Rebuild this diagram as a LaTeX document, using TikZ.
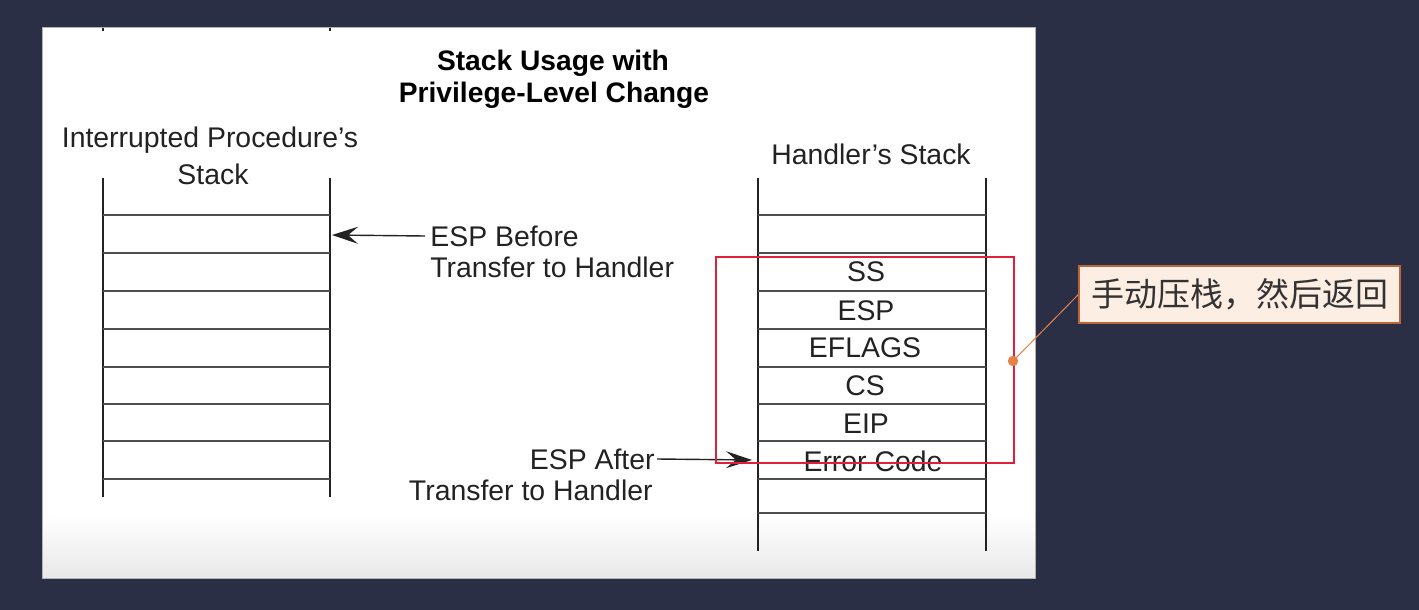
\documentclass[tikz,border=0pt]{standalone}
\usepackage{fontspec}
\setmainfont{Liberation Sans}
\newfontfamily\cjk{Noto Sans CJK SC}
\usetikzlibrary{arrows.meta}
\definecolor{slideBg}{HTML}{2B2F45}
\definecolor{inkGray}{HTML}{222222}
\definecolor{boxRed}{HTML}{E0203A}
\definecolor{noteLine}{HTML}{E8804A}
\definecolor{noteFill}{HTML}{FDEEE3}
\begin{document}
\begin{tikzpicture}[x=0.5pt,y=-0.5pt,font=\fontsize{14.2}{16}\selectfont,
rail/.style={draw=inkGray,line width=1pt},
slot/.style={draw=inkGray!80,line width=0.8pt},
label/.style={text=inkGray,inner sep=0pt},
heading/.style={text=black,inner sep=0pt,font=\fontsize{14.1}{16}\selectfont\bfseries},
pointer/.style={draw=inkGray,line width=0.7pt,-{Stealth[length=13pt,width=8.5pt,inset=5pt]}},
pushBox/.style={draw=boxRed,line width=1pt},
note/.style={draw=noteLine!80!black,fill=noteFill,line width=0.6pt,minimum width=160.5pt,minimum height=28.5pt,inner sep=0pt,text=black!80,font=\cjk\fontsize{16.5}{18}\selectfont}]
\path[use as bounding box] (0,0) rectangle (1419,610);
\fill[slideBg] (0,0) rectangle (1419,610);
% slide panel
\fill[white] (42,28) rectangle (1035,578);
\shade[top color=white,bottom color=black!9] (42,515) rectangle (1035,578);
\draw[black!30,line width=0.5pt] (42,28) rectangle (1035,578);
\draw[inkGray,line width=0.8pt] (103,28)--(103,31);
\draw[inkGray,line width=0.8pt] (330,28)--(330,31);
% title
\node[heading] (title1) at (553,63) {Stack Usage with};
\node[heading] (title2) at (554,95) {Privilege-Level Change};
% interrupted procedure's stack
\node[label] (lhead1) at (210,140) {Interrupted Procedure’s};
\node[label] (lhead2) at (213,174) {Stack};
\draw[rail] (103,178)--(103,497);
\draw[rail] (330,178)--(330,497);
\draw[slot] (103,215)--(330,215);
\draw[slot] (103,253)--(330,253);
\draw[slot] (103,291)--(330,291);
\draw[slot] (103,329)--(330,329);
\draw[slot] (103,367)--(330,367);
\draw[slot] (103,404)--(330,404);
\draw[slot] (103,441)--(330,441);
\draw[slot] (103,479)--(330,479);
% handler's stack
\node[label] (rhead) at (871,154) {Handler’s Stack};
\draw[rail] (758,178)--(758,551);
\draw[rail] (986,178)--(986,551);
\draw[slot] (758,215)--(986,215);
\draw[slot] (758,253)--(986,253);
\draw[slot] (758,291)--(986,291);
\draw[slot] (758,329)--(986,329);
\draw[slot] (758,367)--(986,367);
\draw[slot] (758,404)--(986,404);
\draw[slot] (758,441)--(986,441);
\draw[slot] (758,479)--(986,479);
\draw[slot] (758,513)--(986,513);
\node[label] (ss) at (866,272) {SS};
\node[label] (esp) at (866,311) {ESP};
\node[label] (eflags) at (865,348) {EFLAGS};
\node[label] (cs) at (865,386) {CS};
\node[label] (eip) at (866,424) {EIP};
\node[label] (errcode) at (873,461) {Error Code};
% ESP before transfer
\node[label,anchor=west] (before1) at (430,236) {ESP Before};
\node[label,anchor=west] (before2) at (430,267) {Transfer to Handler};
\coordinate (lTip) at (332,235);
\draw[pointer] ([xshift=-2.5pt]before1.west) -- (lTip);
% ESP after transfer
\node[label,anchor=east] (after1) at (655,459) {ESP After};
\node[label,anchor=east] (after2) at (653,490) {Transfer to Handler};
\coordinate (rTip) at (752,460);
\draw[pointer] ([xshift=1pt]after1.east) -- (rTip);
% pushed frame and note
\draw[pushBox] (716,257) rectangle (1014,463);
\node[note] (pushNote) at (1239.5,294.5) {手动压栈，然后返回};
\coordinate (noteDot) at (1013,361);
\draw[noteLine,line width=0.5pt] (noteDot) -- (pushNote.west);
\fill[noteLine] (noteDot) circle (2.6pt);
\end{tikzpicture}
\end{document}
